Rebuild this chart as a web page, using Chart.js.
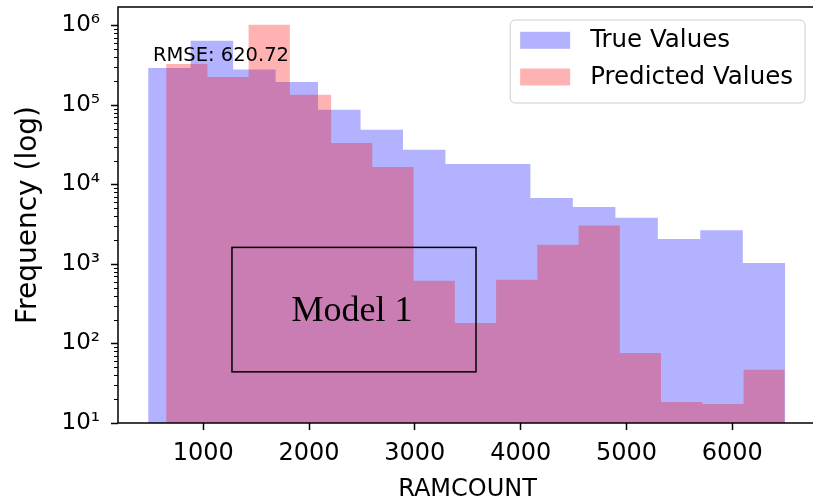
<!DOCTYPE html>
<html lang="en">
<head>
<meta charset="UTF-8">
<title>RAMCOUNT histogram</title>
<style>
  html, body { margin: 0; padding: 0; background: #fff; overflow: hidden; }
  #wrap { width: 813px; height: 504px; overflow: hidden; }
</style>
</head>
<body>
<div id="wrap"><canvas id="histChart" width="830" height="504"></canvas></div>
<script src="https://cdn.jsdelivr.net/npm/chart.js"></script>
<script>
// bin edges (RAMCOUNT) and counts per bin
const trueEdges = [480, 881, 1283, 1684, 2085, 2487, 2888, 3289, 3691, 4092, 4493, 4895, 5296, 5697, 6099, 6500];
const trueCounts = [292000, 644000, 280000, 195000, 87300, 48900, 27400, 18100, 18100, 6760, 5210, 3820, 2060, 2650, 1030];
const predEdges = [650, 1040, 1429, 1819, 2209, 2598, 2988, 3378, 3768, 4157, 4547, 4937, 5326, 5716, 6106, 6495];
const predCounts = [328000, 225000, 1020000, 135000, 33300, 16600, 617, 181, 635, 1750, 3060, 76, 18.4, 17.3, 46.8];

const seriesLabels = ['True Values', 'Predicted Values'];
const seriesColors = ['rgba(0, 0, 255, 0.3)', 'rgba(255, 0, 0, 0.3)'];

const xTickValues = [1000, 2000, 3000, 4000, 5000, 6000];
const yTickValues = [10, 100, 1000, 10000, 100000, 1000000];
const yMinorSteps = [2, 3, 4, 5, 6, 7, 8, 9];

const rmseText = 'RMSE: 620.72';
const boxText = 'Model 1';

const FONT = 'DejaVu Sans';
const SUP = '⁰¹²³⁴⁵⁶⁷⁸⁹';

// histogram outline: one point per edge, last edge repeats the last count
function stepPoints(edges, counts) {
    return edges.map((x, i) => ({ x: x, y: counts[Math.min(i, counts.length - 1)] }));
}

// spines, minor ticks, text, box and legend
const extrasPlugin = {
    id: 'extras',
    afterDatasetsDraw(chart) {
        const ctx = chart.ctx;
        const a = chart.chartArea;
        const xs = chart.scales.x;
        const ys = chart.scales.y;
        ctx.save();

        // RMSE text
        ctx.fillStyle = '#000';
        ctx.font = '19.5px "' + FONT + '"';
        ctx.textAlign = 'left';
        ctx.textBaseline = 'alphabetic';
        ctx.fillText(rmseText, a.left + 0.05 * (a.right - a.left), a.bottom - 0.869 * (a.bottom - a.top));

        // spines (the right one falls outside the picture)
        ctx.strokeStyle = '#000';
        ctx.lineWidth = 1.5;
        ctx.beginPath();
        ctx.moveTo(a.right + 5, a.top);
        ctx.lineTo(a.left, a.top);
        ctx.lineTo(a.left, a.bottom);
        ctx.lineTo(a.right + 5, a.bottom);
        ctx.stroke();

        // minor ticks on the log axis
        ctx.lineWidth = 1;
        yTickValues.forEach(d => {
            yMinorSteps.forEach(m => {
                const v = d * m;
                if (v > ys.max) return;
                const y = Math.round(ys.getPixelForValue(v)) + 0.5;
                ctx.beginPath();
                ctx.moveTo(a.left - 4, y);
                ctx.lineTo(a.left, y);
                ctx.stroke();
            });
        });

        // "Model 1" box
        const bx1 = xs.getPixelForValue(1272), bx2 = xs.getPixelForValue(3578);
        const by1 = ys.getPixelForValue(1618), by2 = ys.getPixelForValue(44);
        ctx.lineWidth = 1.5;
        ctx.strokeRect(bx1, by1, bx2 - bx1, by2 - by1);
        ctx.font = '36px "Liberation Serif"';
        ctx.textAlign = 'center';
        ctx.textBaseline = 'middle';
        ctx.fillText(boxText, (bx1 + bx2) / 2 - 2, (by1 + by2) / 2 + 2);

        // legend
        ctx.font = '24.5px "' + FONT + '"';
        const textW = Math.max(...seriesLabels.map(s => ctx.measureText(s).width));
        const w = 10 + 50 + 20 + textW + 12;
        const h = 83;
        const lx = a.right - 12 - w;
        const ly = a.top + 13;
        const r = 5;
        ctx.beginPath();
        ctx.moveTo(lx + r, ly);
        ctx.arcTo(lx + w, ly, lx + w, ly + h, r);
        ctx.arcTo(lx + w, ly + h, lx, ly + h, r);
        ctx.arcTo(lx, ly + h, lx, ly, r);
        ctx.arcTo(lx, ly, lx + w, ly, r);
        ctx.closePath();
        ctx.fillStyle = 'rgba(255, 255, 255, 0.8)';
        ctx.fill();
        ctx.strokeStyle = '#cccccc';
        ctx.lineWidth = 1;
        ctx.stroke();
        ctx.textAlign = 'left';
        seriesLabels.forEach((label, i) => {
            const cy = ly + 20.3 + i * 36.7;
            ctx.fillStyle = seriesColors[i];
            ctx.fillRect(lx + 10, cy - 8.5, 50, 17);
            ctx.fillStyle = '#000';
            ctx.fillText(label, lx + 80, cy + 0.5);
        });
        ctx.restore();
    }
};

new Chart(document.getElementById('histChart'), {
    type: 'line',
    data: {
        datasets: [{
            label: seriesLabels[0],
            data: stepPoints(trueEdges, trueCounts),
            stepped: 'before',
            fill: 'start',
            backgroundColor: seriesColors[0],
            borderColor: 'rgba(0,0,0,0)',
            borderWidth: 0,
            pointRadius: 0,
            order: 1
        }, {
            label: seriesLabels[1],
            data: stepPoints(predEdges, predCounts),
            stepped: 'before',
            fill: 'start',
            backgroundColor: seriesColors[1],
            borderColor: 'rgba(0,0,0,0)',
            borderWidth: 0,
            pointRadius: 0,
            order: 0   // drawn last, on top of the blue one
        }]
    },
    options: {
        responsive: false,
        animation: false,
        layout: { padding: { left: 0, top: 7, right: 13, bottom: 0 } },
        plugins: {
            legend: { display: false },
            tooltip: { enabled: false }
        },
        scales: {
            x: {
                type: 'linear',
                min: 195,
                max: 6800,
                afterBuildTicks: s => { s.ticks = xTickValues.map(v => ({ value: v })); },
                afterFit: s => {
                    s.height = 81;
                    s.paddingLeft = 0;
                    s.paddingRight = 0;
                },
                ticks: {
                    autoSkip: false,
                    maxRotation: 0,
                    padding: 9,
                    color: '#000',
                    font: { family: FONT, size: 24 },
                    callback: v => String(v)
                },
                grid: { drawOnChartArea: false, tickLength: 7, tickWidth: 1.5, tickColor: '#000' },
                border: { display: false },
                title: {
                    display: true,
                    text: 'RAMCOUNT',
                    color: '#000',
                    font: { family: FONT, size: 24 },
                    padding: { top: 0, bottom: 0 }
                }
            },
            y: {
                type: 'logarithmic',
                min: 10,
                max: 1.71e6,
                afterBuildTicks: s => { s.ticks = yTickValues.map(v => ({ value: v })); },
                afterFit: s => {
                    s.width = 118;
                    s.paddingTop = 0;
                    s.paddingBottom = 0;
                },
                ticks: {
                    autoSkip: false,
                    padding: 11,
                    color: '#000',
                    font: { family: FONT, size: 23 },
                    callback: v => '10' + SUP[Math.round(Math.log10(v))]
                },
                grid: { drawOnChartArea: false, tickLength: 7, tickWidth: 1.5, tickColor: '#000' },
                border: { display: false },
                title: {
                    display: true,
                    text: 'Frequency (log)',
                    color: '#000',
                    font: { family: FONT, size: 28 },
                    padding: { top: 12, bottom: 0 }
                }
            }
        }
    },
    plugins: [extrasPlugin]
});
</script>
</body>
</html>
